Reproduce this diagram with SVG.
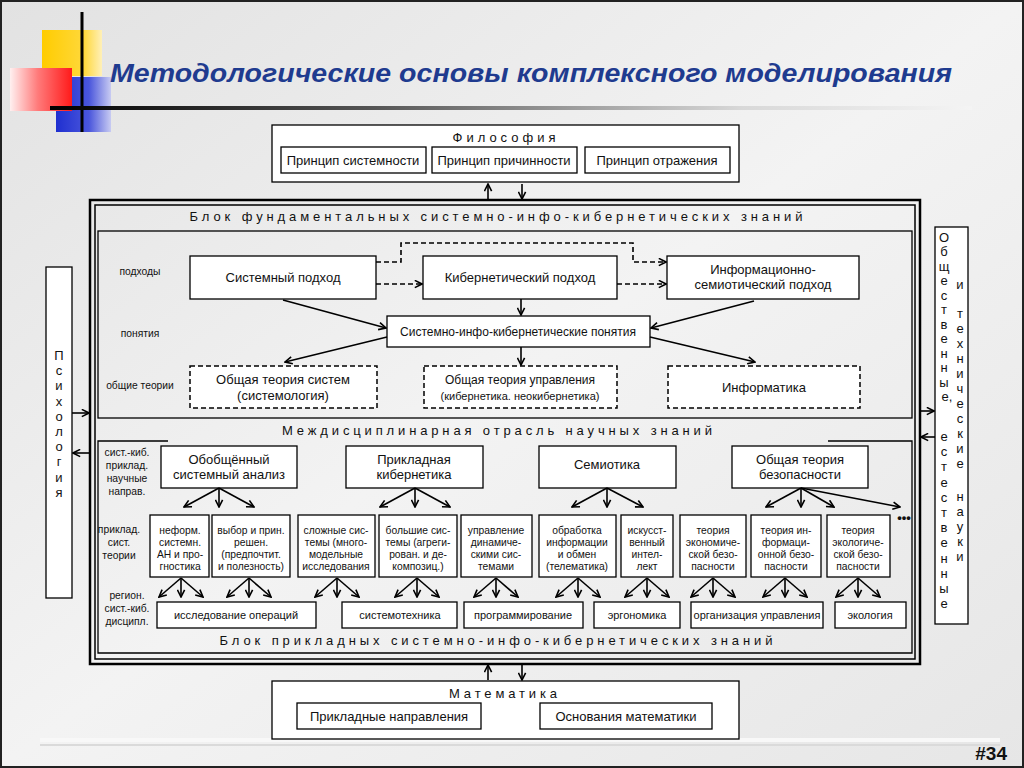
<svg xmlns="http://www.w3.org/2000/svg" width="1024" height="768" viewBox="0 0 1024 768">
<defs>
<linearGradient id="bg" x1="0" y1="0" x2="1" y2="1"><stop offset="0" stop-color="#e2e2e2"/><stop offset="0.5" stop-color="#f3f3f3"/><stop offset="1" stop-color="#e6e6e6"/></linearGradient>
<linearGradient id="gy" x1="0" y1="0" x2="1" y2="0"><stop offset="0" stop-color="#ffcc00"/><stop offset="0.7" stop-color="#ffd83a"/><stop offset="1" stop-color="#fff0b8"/></linearGradient>
<linearGradient id="gr" x1="0" y1="0" x2="1" y2="0"><stop offset="0" stop-color="#fff0f0"/><stop offset="0.45" stop-color="#ff7a7a"/><stop offset="1" stop-color="#ff1a1a"/></linearGradient>
<linearGradient id="gb" x1="0" y1="0" x2="1" y2="0"><stop offset="0" stop-color="#1f2fd0"/><stop offset="0.6" stop-color="#4a56dc"/><stop offset="1" stop-color="#c8cbf2"/></linearGradient>
<linearGradient id="gl" x1="0" y1="0" x2="1" y2="0"><stop offset="0" stop-color="#000"/><stop offset="0.35" stop-color="#555"/><stop offset="0.75" stop-color="#d8d8d8"/><stop offset="1" stop-color="#f4f4f4"/></linearGradient>
<marker id="ah" viewBox="0 0 10 10" refX="9" refY="5" markerWidth="9" markerHeight="9" orient="auto" markerUnits="userSpaceOnUse"><path d="M1,1 L9,5 L1,9" fill="none" stroke="#000" stroke-width="1.8"/></marker>
<style>
.bx{fill:#fff;stroke:#000;stroke-width:1.3}
.db{fill:#fff;stroke:#000;stroke-width:1.5;stroke-dasharray:5 3}
.fr{fill:none;stroke:#000}
.t{font-family:"Liberation Sans",Arial,sans-serif;fill:#111;text-anchor:middle}
.s13{font-size:13px}
.s12{font-size:12px}
.s11{font-size:11px}
.s10{font-size:10.3px}
.sp{font-size:13px}
.ar{stroke:#000;stroke-width:1.6;fill:none;marker-end:url(#ah)}
.da{stroke:#000;stroke-width:1.6;fill:none;stroke-dasharray:5 3;marker-end:url(#ah)}
.vt{font-family:"Liberation Sans",Arial,sans-serif;font-size:13px;fill:#111;text-anchor:middle}
</style>
</defs>
<rect x="0" y="0" width="1024" height="768" fill="url(#bg)"/>
<rect x="40" y="738" width="960" height="4" fill="#f8f8f8"/>
<rect x="40" y="744" width="960" height="2" fill="#dadada"/>
<rect x="1" y="1" width="1022" height="766" fill="none" stroke="#222" stroke-width="2"/>

<g id="title-decor">
<rect x="42" y="30" width="60" height="46" fill="url(#gy)"/>
<rect x="56" y="77" width="55" height="55" fill="url(#gb)"/>
<rect x="10" y="68" width="62" height="43" fill="url(#gr)"/>
<rect x="80.5" y="12" width="3" height="120" fill="#000"/>
<rect x="50" y="106" width="922" height="4" fill="url(#gl)"/>
</g>
<text x="110" y="82" font-family="'Liberation Sans',Arial,sans-serif" font-size="25" font-weight="bold" font-style="italic" fill="#1f3b8f" textLength="842" lengthAdjust="spacingAndGlyphs">Методологические основы комплексного моделирования</text>

<g id="philosophy">
<rect class="bx" x="272" y="125" width="467" height="57"/>
<text class="t sp" x="504" y="142" textLength="103" lengthAdjust="spacing">Философия</text>
<rect class="bx" x="281" y="147" width="145" height="26"/>
<text class="t s13" x="353" y="165">Принцип системности</text>
<rect class="bx" x="432" y="147" width="145" height="26"/>
<text class="t s13" x="504" y="165">Принцип причинности</text>
<rect class="bx" x="585" y="147" width="145" height="26"/>
<text class="t s13" x="657" y="165">Принцип отражения</text>
</g>

<g id="main-block">
<rect class="fr" x="90" y="200" width="830" height="464" stroke-width="2.5"/>
<rect class="fr" x="95" y="205" width="820" height="454" stroke-width="1.5"/>
<text class="t sp" x="496" y="221" textLength="613" lengthAdjust="spacing">Блок фундаментальных системно-инфо-кибернетических знаний</text>
<text class="t sp" x="497" y="435" textLength="430" lengthAdjust="spacing">Междисциплинарная отрасль научных знаний</text>
<text class="t sp" x="496" y="645" textLength="553" lengthAdjust="spacing">Блок прикладных системно-инфо-кибернетических знаний</text>
</g>

<g id="fundamental-box">
<rect class="fr" x="98" y="231" width="814" height="187" stroke-width="1.3"/>
<text class="t s10" x="140" y="275">подходы</text>
<text class="t s10" x="140" y="337">понятия</text>
<text class="t s10" x="140" y="389">общие теории</text>
</g>
<g id="n-sys">
<rect class="bx" x="190" y="256" width="186" height="43"/>
<text class="t s13" x="283" y="282">Системный подход</text>
</g>
<g id="n-cyb">
<rect class="bx" x="423" y="256" width="194" height="43"/>
<text class="t s13" x="520" y="282">Кибернетический подход</text>
</g>
<g id="n-info">
<rect class="bx" x="667" y="256" width="192" height="43"/>
<text class="t s13" x="763" y="274">Информационно-</text>
<text class="t s13" x="763" y="289">семиотический подход</text>
</g>
<g id="n-concepts">
<rect class="bx" x="387" y="316" width="263" height="31"/>
<text class="t s12" x="518" y="336">Системно-инфо-кибернетические понятия</text>
</g>
<g id="n-ots">
<rect class="db" x="190" y="366" width="187" height="42"/>
<text class="t s13" x="283" y="384">Общая теория систем</text>
<text class="t s13" x="283" y="400">(системология)</text>
</g>
<g id="n-otu">
<rect class="db" x="424" y="366" width="193" height="42"/>
<text class="t s12" x="520" y="384">Общая теория управления</text>
<text class="t s11" x="520" y="400">(кибернетика. неокибернетика)</text>
</g>
<g id="n-inf">
<rect class="db" x="668" y="366" width="192" height="42"/>
<text class="t s13" x="764" y="392">Информатика</text>
</g>

<g id="applied-box">
<path class="fr" d="M168,441 H98 V653 H912 V441 H828" stroke-width="1.3"/>
<text class="t s10" x="127" y="456">сист.-киб.</text>
<text class="t s10" x="127" y="469">приклад.</text>
<text class="t s10" x="127" y="482">научные</text>
<text class="t s10" x="127" y="495">направ.</text>
<text class="t s10" x="119" y="533">приклад.</text>
<text class="t s10" x="119" y="546">сист.</text>
<text class="t s10" x="119" y="559">теории</text>
<text class="t s10" x="127" y="599">регион.</text>
<text class="t s10" x="127" y="612">сист.-киб.</text>
<text class="t s10" x="127" y="625">дисципл.</text>
</g>
<g id="n-osa">
<rect class="bx" x="161" y="446" width="136" height="42"/>
<text class="t s13" x="229" y="464">Обобщённый</text>
<text class="t s13" x="229" y="479">системный анализ</text>
</g>
<g id="n-pk">
<rect class="bx" x="346" y="446" width="137" height="42"/>
<text class="t s13" x="414" y="464">Прикладная</text>
<text class="t s13" x="414" y="479">кибернетика</text>
</g>
<g id="n-sem">
<rect class="bx" x="539" y="446" width="137" height="42"/>
<text class="t s13" x="607" y="469">Семиотика</text>
</g>
<g id="n-otb">
<rect class="bx" x="732" y="446" width="136" height="42"/>
<text class="t s13" x="800" y="464">Общая теория</text>
<text class="t s13" x="800" y="479">безопасности</text>
</g>

<g id="n-r1"><rect class="bx" x="150" y="515" width="59" height="62"/>
<text class="t s10" x="180" y="534">неформ.</text><text class="t s10" x="180" y="546">системн.</text><text class="t s10" x="180" y="558">АН и про-</text><text class="t s10" x="180" y="570">гностика</text></g>
<g id="n-r2"><rect class="bx" x="212" y="515" width="78" height="62"/>
<text class="t s10" x="251" y="534">выбор и прин.</text><text class="t s10" x="251" y="546">решен.</text><text class="t s10" x="251" y="558">(предпочтит.</text><text class="t s10" x="251" y="570">и полезность)</text></g>
<g id="n-r3"><rect class="bx" x="298" y="515" width="77" height="62"/>
<text class="t s10" x="336" y="534">сложные сис-</text><text class="t s10" x="336" y="546">темы (много-</text><text class="t s10" x="336" y="558">модельные</text><text class="t s10" x="336" y="570">исследования</text></g>
<g id="n-r4"><rect class="bx" x="379" y="515" width="78" height="62"/>
<text class="t s10" x="418" y="534">большие сис-</text><text class="t s10" x="418" y="546">темы (агреги-</text><text class="t s10" x="418" y="558">рован. и де-</text><text class="t s10" x="418" y="570">композиц.)</text></g>
<g id="n-r5"><rect class="bx" x="461" y="515" width="71" height="62"/>
<text class="t s10" x="496" y="534">управление</text><text class="t s10" x="496" y="546">динамиче-</text><text class="t s10" x="496" y="558">скими сис-</text><text class="t s10" x="496" y="570">темами</text></g>
<g id="n-r6"><rect class="bx" x="539" y="515" width="77" height="62"/>
<text class="t s10" x="577" y="534">обработка</text><text class="t s10" x="577" y="546">информации</text><text class="t s10" x="577" y="558">и обмен</text><text class="t s10" x="577" y="570">(телематика)</text></g>
<g id="n-r7"><rect class="bx" x="621" y="515" width="52" height="62"/>
<text class="t s10" x="647" y="534">искусст-</text><text class="t s10" x="647" y="546">венный</text><text class="t s10" x="647" y="558">интел-</text><text class="t s10" x="647" y="570">лект</text></g>
<g id="n-r8"><rect class="bx" x="680" y="515" width="66" height="62"/>
<text class="t s10" x="713" y="534">теория</text><text class="t s10" x="713" y="546">экономиче-</text><text class="t s10" x="713" y="558">ской безо-</text><text class="t s10" x="713" y="570">пасности</text></g>
<g id="n-r9"><rect class="bx" x="751" y="515" width="70" height="62"/>
<text class="t s10" x="786" y="534">теория ин-</text><text class="t s10" x="786" y="546">формаци-</text><text class="t s10" x="786" y="558">онной безо-</text><text class="t s10" x="786" y="570">пасности</text></g>
<g id="n-r10"><rect class="bx" x="827" y="515" width="63" height="62"/>
<text class="t s10" x="858" y="534">теория</text><text class="t s10" x="858" y="546">экологиче-</text><text class="t s10" x="858" y="558">ской безо-</text><text class="t s10" x="858" y="570">пасности</text></g>
<text class="t" x="904" y="522" font-size="13" font-weight="bold">•••</text>

<g id="n-d1"><rect class="bx" x="157" y="602" width="159" height="26"/><text class="t s11" x="236" y="619">исследование операций</text></g>
<g id="n-d2"><rect class="bx" x="342" y="602" width="115" height="26"/><text class="t s11" x="400" y="619">системотехника</text></g>
<g id="n-d3"><rect class="bx" x="464" y="602" width="119" height="26"/><text class="t s11" x="523" y="619">программирование</text></g>
<g id="n-d4"><rect class="bx" x="594" y="602" width="86" height="26"/><text class="t s11" x="637" y="619">эргономика</text></g>
<g id="n-d5"><rect class="bx" x="691" y="602" width="132" height="26"/><text class="t s11" x="757" y="619">организация управления</text></g>
<g id="n-d6"><rect class="bx" x="835" y="602" width="71" height="26"/><text class="t s11" x="870" y="619">экология</text></g>

<g id="mathematics">
<rect class="bx" x="272" y="681" width="467" height="58"/>
<text class="t sp" x="503" y="698" textLength="108" lengthAdjust="spacing">Математика</text>
<rect class="bx" x="297" y="703" width="184" height="26"/>
<text class="t s13" x="389" y="721">Прикладные направления</text>
<rect class="bx" x="540" y="703" width="172" height="26"/>
<text class="t s13" x="626" y="721">Основания математики</text>
</g>

<g id="psychology">
<rect class="bx" x="46" y="267" width="26" height="331"/>
<text class="vt"><tspan x="59" y="360">П</tspan><tspan x="59" y="375">с</tspan><tspan x="59" y="390">и</tspan><tspan x="59" y="406">х</tspan><tspan x="59" y="421">о</tspan><tspan x="59" y="436">л</tspan><tspan x="59" y="451">о</tspan><tspan x="59" y="466">г</tspan><tspan x="59" y="482">и</tspan><tspan x="59" y="497">я</tspan></text>
</g>

<g id="sciences">
<rect class="bx" x="935" y="227" width="33" height="397"/>
<text class="vt"><tspan x="944" y="242">О</tspan><tspan x="944" y="256">б</tspan><tspan x="944" y="271">щ</tspan><tspan x="944" y="285">е</tspan><tspan x="944" y="300">с</tspan><tspan x="944" y="314">т</tspan><tspan x="944" y="329">в</tspan><tspan x="944" y="343">е</tspan><tspan x="944" y="358">н</tspan><tspan x="944" y="372">н</tspan><tspan x="944" y="387">ы</tspan><tspan x="947" y="401">е,</tspan><tspan x="944" y="441">е</tspan><tspan x="944" y="456">с</tspan><tspan x="944" y="471">т</tspan><tspan x="944" y="487">е</tspan><tspan x="944" y="502">с</tspan><tspan x="944" y="517">т</tspan><tspan x="944" y="532">в</tspan><tspan x="944" y="547">е</tspan><tspan x="944" y="563">н</tspan><tspan x="944" y="578">н</tspan><tspan x="944" y="593">ы</tspan><tspan x="944" y="608">е</tspan></text>
<text class="vt"><tspan x="960" y="289">и</tspan><tspan x="960" y="318">т</tspan><tspan x="960" y="333">е</tspan><tspan x="960" y="348">х</tspan><tspan x="960" y="363">н</tspan><tspan x="960" y="378">и</tspan><tspan x="960" y="393">ч</tspan><tspan x="960" y="408">е</tspan><tspan x="960" y="423">с</tspan><tspan x="960" y="438">к</tspan><tspan x="960" y="453">и</tspan><tspan x="960" y="468">е</tspan><tspan x="960" y="501">н</tspan><tspan x="960" y="516">а</tspan><tspan x="960" y="531">у</tspan><tspan x="960" y="546">к</tspan><tspan x="960" y="561">и</tspan></text>
</g>

<text x="1007" y="760" font-family="'Liberation Sans',Arial,sans-serif" font-size="19" font-weight="bold" fill="#111" text-anchor="end">#34</text>

<g id="connectors">
<line class="ar" x1="488" y1="199" x2="488" y2="184"/>
<line class="ar" x1="522" y1="184" x2="522" y2="199"/>
<line class="ar" x1="488" y1="680" x2="488" y2="665"/>
<line class="ar" x1="522" y1="665" x2="522" y2="680"/>
<line class="ar" x1="72" y1="413" x2="89" y2="413"/>
<line class="ar" x1="90" y1="453" x2="73" y2="453"/>
<line class="ar" x1="920" y1="411" x2="934" y2="411"/>
<line class="ar" x1="935" y1="437" x2="921" y2="437"/>
<path class="da" d="M376,262 H401 V243 H633 V262 H666"/>
<line class="da" x1="376" y1="284" x2="422" y2="284"/>
<line class="da" x1="617" y1="284" x2="666" y2="284"/>
<line class="ar" x1="283" y1="300" x2="386" y2="328"/>
<line class="ar" x1="754" y1="301" x2="651" y2="328"/>
<line class="ar" x1="521" y1="299" x2="521" y2="315"/>
<line class="ar" x1="387" y1="337" x2="285" y2="362"/>
<line class="ar" x1="521" y1="347" x2="521" y2="365"/>
<line class="ar" x1="650" y1="337" x2="755" y2="362"/>
<line class="ar" x1="219" y1="488" x2="184" y2="507"/>
<line class="ar" x1="219" y1="488" x2="219" y2="507"/>
<line class="ar" x1="219" y1="488" x2="254" y2="507"/>
<line class="ar" x1="415" y1="488" x2="380" y2="507"/>
<line class="ar" x1="415" y1="488" x2="415" y2="507"/>
<line class="ar" x1="415" y1="488" x2="450" y2="507"/>
<line class="ar" x1="607" y1="488" x2="572" y2="507"/>
<line class="ar" x1="607" y1="488" x2="607" y2="507"/>
<line class="ar" x1="607" y1="488" x2="643" y2="507"/>
<line class="ar" x1="801" y1="488" x2="766" y2="507"/>
<line class="ar" x1="801" y1="488" x2="801" y2="507"/>
<line class="ar" x1="801" y1="488" x2="834" y2="507"/>
<line class="ar" x1="801" y1="488" x2="900" y2="507"/>
<g>
<path class="ar" d="M181,578 L159,597"/><path class="ar" d="M181,578 V597"/><path class="ar" d="M181,578 L203,597"/>
<path class="ar" d="M249,578 L227,597"/><path class="ar" d="M249,578 V597"/><path class="ar" d="M249,578 L271,597"/>
<path class="ar" d="M337,578 L315,597"/><path class="ar" d="M337,578 V597"/><path class="ar" d="M337,578 L359,597"/>
<path class="ar" d="M417,578 L395,597"/><path class="ar" d="M417,578 V597"/><path class="ar" d="M417,578 L439,597"/>
<path class="ar" d="M496,578 L474,597"/><path class="ar" d="M496,578 V597"/><path class="ar" d="M496,578 L518,597"/>
<path class="ar" d="M578,578 L556,597"/><path class="ar" d="M578,578 V597"/><path class="ar" d="M578,578 L600,597"/>
<path class="ar" d="M647,578 L625,597"/><path class="ar" d="M647,578 V597"/><path class="ar" d="M647,578 L669,597"/>
<path class="ar" d="M713,578 L691,597"/><path class="ar" d="M713,578 V597"/><path class="ar" d="M713,578 L735,597"/>
<path class="ar" d="M785,578 L763,597"/><path class="ar" d="M785,578 V597"/><path class="ar" d="M785,578 L807,597"/>
<path class="ar" d="M858,578 L836,597"/><path class="ar" d="M858,578 V597"/><path class="ar" d="M858,578 L880,597"/>
</g>
</g>
</svg>
